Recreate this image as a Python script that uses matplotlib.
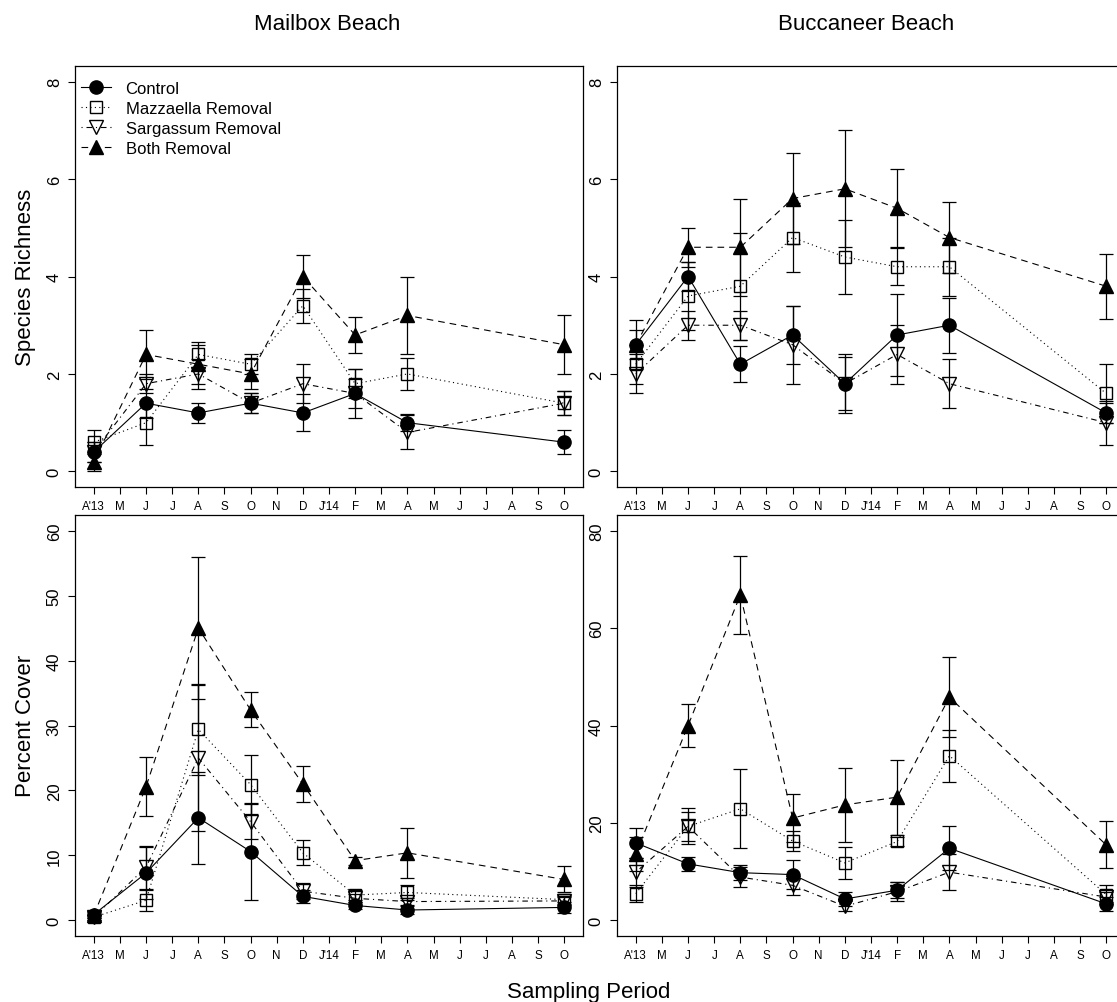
import matplotlib
matplotlib.use('Agg')
import matplotlib.pyplot as plt
import numpy as np

plt.rcParams['font.family'] = ['Liberation Sans', 'DejaVu Sans']

# month axis: A'13 .. O'14
month_labels = ["A'13", 'M', 'J', 'J', 'A', 'S', 'O', 'N', 'D', "J'14",
                'F', 'M', 'A', 'M', 'J', 'J', 'A', 'S', 'O']
sample_months = [0, 2, 4, 6, 8, 10, 12, 18]

series_names = ['Control', 'Mazzaella Removal', 'Sargassum Removal', 'Both Removal']

# Mailbox Beach - species richness (mean, se)
mb_rich_control = [0.4, 1.4, 1.2, 1.4, 1.2, 1.6, 1.0, 0.6]
mb_rich_control_se = [0.2, 0.3, 0.2, 0.2, 0.38, 0.5, 0.17, 0.25]
mb_rich_mazz = [0.6, 1.0, 2.4, 2.2, 3.4, 1.8, 2.0, 1.4]
mb_rich_mazz_se = [0.25, 0.45, 0.25, 0.2, 0.35, 0.3, 0.33, 0.25]
mb_rich_sarg = [0.4, 1.8, 2.0, 1.4, 1.8, 1.6, 0.8, 1.4]
mb_rich_sarg_se = [0.2, 0.2, 0.3, 0.2, 0.4, 0.3, 0.35, 0.25]
mb_rich_both = [0.2, 2.4, 2.2, 2.0, 4.0, 2.8, 3.2, 2.6]
mb_rich_both_se = [0.2, 0.5, 0.4, 0.3, 0.45, 0.37, 0.8, 0.6]

# Buccaneer Beach - species richness
bb_rich_control = [2.6, 4.0, 2.2, 2.8, 1.8, 2.8, 3.0, 1.2]
bb_rich_control_se = [0.3, 0.3, 0.37, 0.6, 0.6, 0.85, 0.56, 0.2]
bb_rich_mazz = [2.2, 3.6, 3.8, 4.8, 4.4, 4.2, 4.2, 1.6]
bb_rich_mazz_se = [0.4, 0.7, 1.1, 0.7, 0.75, 0.38, 0.6, 0.6]
bb_rich_sarg = [2.0, 3.0, 3.0, 2.6, 1.8, 2.4, 1.8, 1.0]
bb_rich_sarg_se = [0.4, 0.3, 0.3, 0.8, 0.55, 0.6, 0.5, 0.45]
bb_rich_both = [2.6, 4.6, 4.6, 5.6, 5.8, 5.4, 4.8, 3.8]
bb_rich_both_se = [0.5, 0.4, 1.0, 0.93, 1.2, 0.8, 0.73, 0.67]

# Mailbox Beach - percent cover
mb_cov_control = [0.9, 7.3, 15.8, 10.6, 3.7, 2.3, 1.6, 2.0]
mb_cov_control_se = [0.5, 4.0, 7.1, 7.4, 1.0, 0.6, 0.6, 0.8]
mb_cov_mazz = [0.5, 3.1, 29.4, 20.9, 10.4, 3.9, 4.3, 3.2]
mb_cov_mazz_se = [0.4, 1.6, 7.0, 4.5, 1.9, 0.8, 1.2, 0.6]
mb_cov_sarg = [0.5, 8.2, 25.0, 15.2, 4.5, 3.4, 2.9, 3.0]
mb_cov_sarg_se = [0.4, 3.3, 11.2, 2.7, 1.2, 0.6, 0.6, 0.6]
mb_cov_both = [0.8, 20.6, 45.0, 32.4, 21.0, 9.2, 10.4, 6.3]
mb_cov_both_se = [0.5, 4.6, 10.9, 2.7, 2.7, 0.6, 3.8, 2.0]

# Buccaneer Beach - percent cover
bb_cov_control = [15.9, 11.6, 9.8, 9.4, 4.4, 6.2, 14.8, 3.4]
bb_cov_control_se = [3.0, 1.4, 1.5, 3.0, 1.4, 1.7, 4.5, 1.4]
bb_cov_mazz = [5.5, 19.3, 22.9, 16.3, 11.8, 16.2, 33.8, 5.3]
bb_cov_mazz_se = [1.7, 3.7, 8.1, 2.0, 3.2, 1.0, 5.3, 2.0]
bb_cov_sarg = [9.9, 19.3, 8.9, 7.2, 2.9, 5.9, 9.9, 4.8]
bb_cov_sarg_se = [3.0, 3.0, 2.0, 2.0, 1.0, 2.0, 3.7, 1.0]
bb_cov_both = [13.7, 40.0, 66.8, 21.0, 23.7, 25.3, 45.8, 15.5]
bb_cov_both_se = [3.5, 4.5, 8.0, 5.0, 7.6, 7.7, 8.2, 4.8]

styles = [
    dict(ls='-', marker='o', mfc='black', ms=9.5),
    dict(ls=(0, (1, 3)), marker='s', mfc='none', ms=8.5),
    dict(ls=(0, (1, 3.5, 5, 3.5)), marker='v', mfc='none', ms=10.5),
    dict(ls=(0, (6, 4.5)), marker='^', mfc='black', ms=10.5),
]

W, H = 1117, 1003
fig = plt.figure(figsize=(W / 100, H / 100), dpi=100)


def box(x0, x1, y0, y1):
    return [x0 / W, 1 - y1 / H, (x1 - x0) / W, (y1 - y0) / H]


def panel(rect, data, ymax, ystep, legend=False):
    ax = fig.add_axes(rect)
    for i, ((m, se), st) in enumerate(zip(data, styles)):
        ax.plot(sample_months, m, color='black', lw=0.8, ls=st['ls'],
                marker=st['marker'], mfc=st['mfc'], mec='black', mew=1.0,
                ms=st['ms'], label=series_names[i])
        ax.errorbar(sample_months, m, yerr=se, fmt='none', ecolor='black',
                    elinewidth=0.9, capsize=4.7, capthick=0.9)
    pad = 0.04 * 18
    ax.set_xlim(-pad, 18 + pad)
    ax.set_ylim(-0.04 * ymax, ymax * 1.04)
    ax.set_xticks(range(19))
    ax.set_xticklabels(month_labels, fontsize=8.4)
    yt = np.arange(0, ymax + 0.1, ystep)
    ax.set_yticks(yt)
    ax.set_yticklabels([f'{v:g}' for v in yt], fontsize=12, rotation=90, va='center')
    ax.tick_params(direction='out', length=5, width=0.8)
    ax.tick_params(axis='x', pad=4.5)
    ax.tick_params(axis='y', pad=4.5)
    for s in ax.spines.values():
        s.set_linewidth(0.9)
    if legend:
        ax.legend(loc='upper left', bbox_to_anchor=(0.011, 0.964),
                  frameon=False, fontsize=12,
                  handlelength=1.85, handletextpad=0.85, labelspacing=0.3,
                  borderaxespad=0, borderpad=0)
    return ax


panel(box(75, 583, 67, 488),
      [(mb_rich_control, mb_rich_control_se), (mb_rich_mazz, mb_rich_mazz_se),
       (mb_rich_sarg, mb_rich_sarg_se), (mb_rich_both, mb_rich_both_se)],
      8, 2, legend=True)
panel(box(617, 1125, 67, 488),
      [(bb_rich_control, bb_rich_control_se), (bb_rich_mazz, bb_rich_mazz_se),
       (bb_rich_sarg, bb_rich_sarg_se), (bb_rich_both, bb_rich_both_se)],
      8, 2)
panel(box(75, 583, 516, 937),
      [(mb_cov_control, mb_cov_control_se), (mb_cov_mazz, mb_cov_mazz_se),
       (mb_cov_sarg, mb_cov_sarg_se), (mb_cov_both, mb_cov_both_se)],
      60, 10)
panel(box(617, 1125, 516, 937),
      [(bb_cov_control, bb_cov_control_se), (bb_cov_mazz, bb_cov_mazz_se),
       (bb_cov_sarg, bb_cov_sarg_se), (bb_cov_both, bb_cov_both_se)],
      80, 20)

fig.text(327 / W, 1 - 29.5 / H, 'Mailbox Beach', ha='center', va='baseline', fontsize=16)
fig.text(866 / W, 1 - 29.5 / H, 'Buccaneer Beach', ha='center', va='baseline', fontsize=16)
fig.text(26 / W, 1 - 277 / H, 'Species Richness', ha='center', va='center',
         rotation=90, fontsize=16)
fig.text(26 / W, 1 - 726 / H, 'Percent Cover', ha='center', va='center',
         rotation=90, fontsize=16)
fig.text(589 / W, 1 - 998 / H, 'Sampling Period', ha='center', va='baseline', fontsize=16)

fig.savefig('out.png', dpi=100)
